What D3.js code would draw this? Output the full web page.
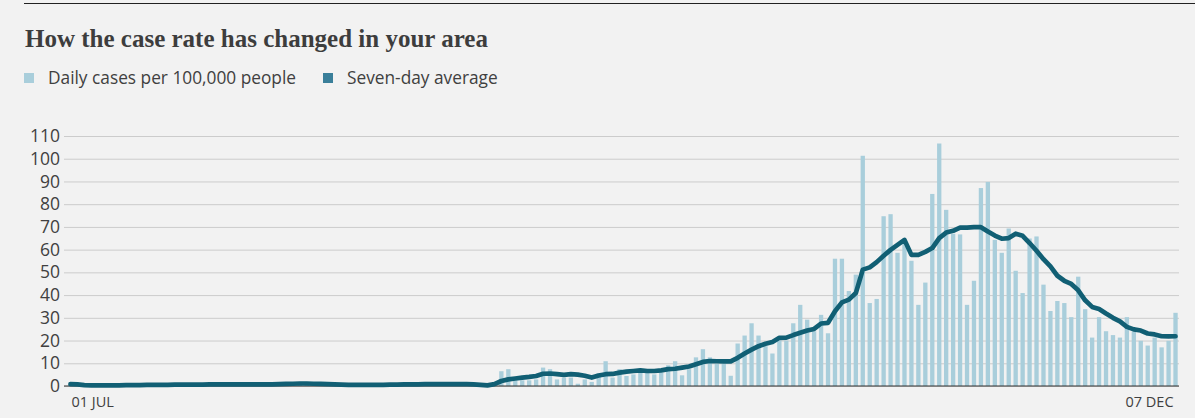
<!DOCTYPE html>
<html>
<head>
<meta charset="utf-8">
<script src="https://cdn.jsdelivr.net/npm/d3@7"></script>
<style>
  html, body { margin: 0; padding: 0; background: #f2f2f2; }
  svg { display: block; }
</style>
</head>
<body>
<svg id="chart" width="1195" height="418"></svg>
<script>
// ---- data ----
const titleText = "How the case rate has changed in your area";
const legendLabels = ["Daily cases per 100,000 people", "Seven-day average"];
const yTicks = [0, 10, 20, 30, 40, 50, 60, 70, 80, 90, 100, 110];
const xTickIndex = [0, 159];
const xTickLabels = ["01 JUL", "07 DEC"];

// daily cases per 100k, 01 Jul .. 07 Dec (160 days)
const dailyCases = [
  0.3,0.5,0.2,0.4,0.3,0.2,0.5,0.3,0.6,0.4,
  0.5,0.3,0.8,0.5,0.4,0.6,0.7,0.5,0.4,0.6,
  0.8,0.7,0.6,0.9,0.7,0.8,0.6,1.0,0.8,0.7,
  0.9,1.2,1.0,1.4,1.3,1.1,0.9,0.8,0.7,0.6,
  0.5,0.6,0.7,0.5,0.6,0.8,0.7,0.9,0.6,0.7,
  0.8,0.9,1.0,0.7,0.8,0.6,0.9,0.7,0.5,0.3,
  0.2,1.2,
  6.5,7.4,2.5,2.5,2.5,2.9,8.1,7.4,
  2.9,3.7,3.7,1.0,2.9,1.8,5.6,10.9,3.7,7.4,
  4.4,5.1,5.9,5.9,5.1,5.9,9.1,10.9,4.7,7.4,
  12.6,16.2,12.6,9.8,9.8,4.5,18.7,22.2,27.6,22.2,
  17.5,14.3,20,20,27.6,35.7,29.2,24.1,31.3,23.2,
  56,56,41.8,49,101.3,36.5,38.3,74.7,75.6,58.6,
  64,55.1,35.7,45.5,84.5,106.7,77.5,67,66.7,35.7,
  46.3,87.1,89.8,64.3,58.6,69.3,50.7,40.9,64.9,65.8,
  44.6,33,37.4,36.5,30.3,48.1,33.8,21.3,30.3,24.1,
  22.4,21.3,30.3,24.1,19.9,17.8,21.3,17,19.9,32.2
];

// seven-day average
const sevenDayAvg = [
  0.8,0.7,0.4,0.3,0.3,0.3,0.3,0.3,0.4,0.4,
  0.4,0.5,0.5,0.5,0.5,0.6,0.6,0.6,0.6,0.6,
  0.7,0.7,0.7,0.7,0.7,0.7,0.7,0.7,0.7,0.7,
  0.8,0.9,1.0,1.1,1.1,1.0,0.9,0.8,0.7,0.6,
  0.5,0.5,0.5,0.5,0.5,0.5,0.6,0.6,0.7,0.7,
  0.7,0.8,0.8,0.8,0.8,0.8,0.8,0.8,0.7,0.5,
  0.3,0.8,
  2.2,2.9,3.3,3.7,4.0,4.4,5.4,5.5,
  5.2,4.9,5.2,5.0,4.5,3.7,4.6,5.2,5.3,5.9,
  6.3,6.6,6.9,6.6,6.6,6.9,7.4,7.6,8.1,8.6,
  9.6,10.6,11.0,10.9,10.8,10.8,12.4,14.3,16,17.5,
  18.6,19.4,21.2,21.3,22.4,23.4,24.4,25.1,27.5,27.8,
  32.9,36.8,38,40.9,51.2,52.2,54.5,57.3,59.9,62.1,
  64.3,57.7,57.7,59,60.7,65.1,67.5,68.3,69.7,69.7,
  69.9,69.9,68,66.2,64.8,65.1,67,66.1,62.9,59.5,
  55.8,52.6,48.5,46.3,44.9,42.1,37.7,34.8,33.9,31.9,
  30,28.4,26,24.9,24.4,23.1,22.7,21.9,21.8,21.9
];

// ---- drawing ----
const svg = d3.select("#chart");
const barColor = "#a9cedb";
const lineColor = "#115f74";
const legendLineColor = "#3a7f9a";
const textColor = "#404040";

svg.append("rect").attr("width", 1195).attr("height", 418).attr("fill", "#f2f2f2");

// top rule
svg.append("line").attr("x1", 24).attr("x2", 1195).attr("y1", 3.5).attr("y2", 3.5)
  .attr("stroke", "#222").attr("stroke-width", 1);

// title
svg.append("text").attr("x", 25).attr("y", 47)
  .attr("font-family", "'Liberation Serif', serif").attr("font-weight", "bold")
  .attr("font-size", 25).attr("fill", "#3d3d3d").text(titleText);

// legend
const legendX = [24, 323];
const legendColors = [barColor, legendLineColor];
legendLabels.forEach((lab, i) => {
  svg.append("rect").attr("x", legendX[i]).attr("y", 73).attr("width", 10).attr("height", 10)
    .attr("fill", legendColors[i]);
  svg.append("text").attr("x", legendX[i] + 24).attr("y", 84)
    .attr("font-family", "'Open Sans', sans-serif").attr("font-size", 17.3)
    .attr("fill", textColor).text(lab);
});

const x = d3.scaleBand().domain(d3.range(dailyCases.length))
  .range([67, 1179]).paddingInner(0.38).paddingOuter(0.19);
const y = d3.scaleLinear().domain([0, 110]).range([386, 136]);

// gridlines + y labels
const yAxis = d3.axisLeft(y).tickValues(yTicks).tickSize(-(1179 - 64)).tickPadding(4);
const gy = svg.append("g").attr("transform", "translate(64,0)").call(yAxis);
gy.select(".domain").remove();
gy.selectAll(".tick line").attr("stroke", "#cccccc").attr("stroke-width", 1);
gy.selectAll(".tick text").attr("font-family", "'Open Sans', sans-serif")
  .attr("font-size", 17.5).attr("fill", textColor).attr("x", -4);

// bars
svg.append("g").selectAll("rect").data(dailyCases).join("rect")
  .attr("x", (d, i) => x(i)).attr("width", x.bandwidth())
  .attr("y", d => y(d)).attr("height", d => y(0) - y(d))
  .attr("fill", barColor);

// baseline
svg.append("line").attr("x1", 64).attr("x2", 1179).attr("y1", y(0)).attr("y2", y(0))
  .attr("stroke", "#333").attr("stroke-width", 1.2);

// seven-day line
const line = d3.line().x((d, i) => x(i) + x.bandwidth() / 2).y(d => y(d));
svg.append("path").datum(sevenDayAvg).attr("d", line)
  .attr("fill", "none").attr("stroke", lineColor).attr("stroke-width", 4.7)
  .attr("stroke-linejoin", "round").attr("stroke-linecap", "round");

// x labels
const xAnchors = ["start", "end"];
xTickIndex.forEach((idx, i) => {
  const cx = x(idx) + x.bandwidth() / 2;
  svg.append("text").attr("x", i === 0 ? cx + 1 : cx - 2).attr("y", 407)
    .attr("text-anchor", xAnchors[i])
    .attr("font-family", "'Open Sans', sans-serif").attr("font-size", 14.5)
    .attr("fill", textColor).text(xTickLabels[i]);
});
</script>
</body>
</html>
